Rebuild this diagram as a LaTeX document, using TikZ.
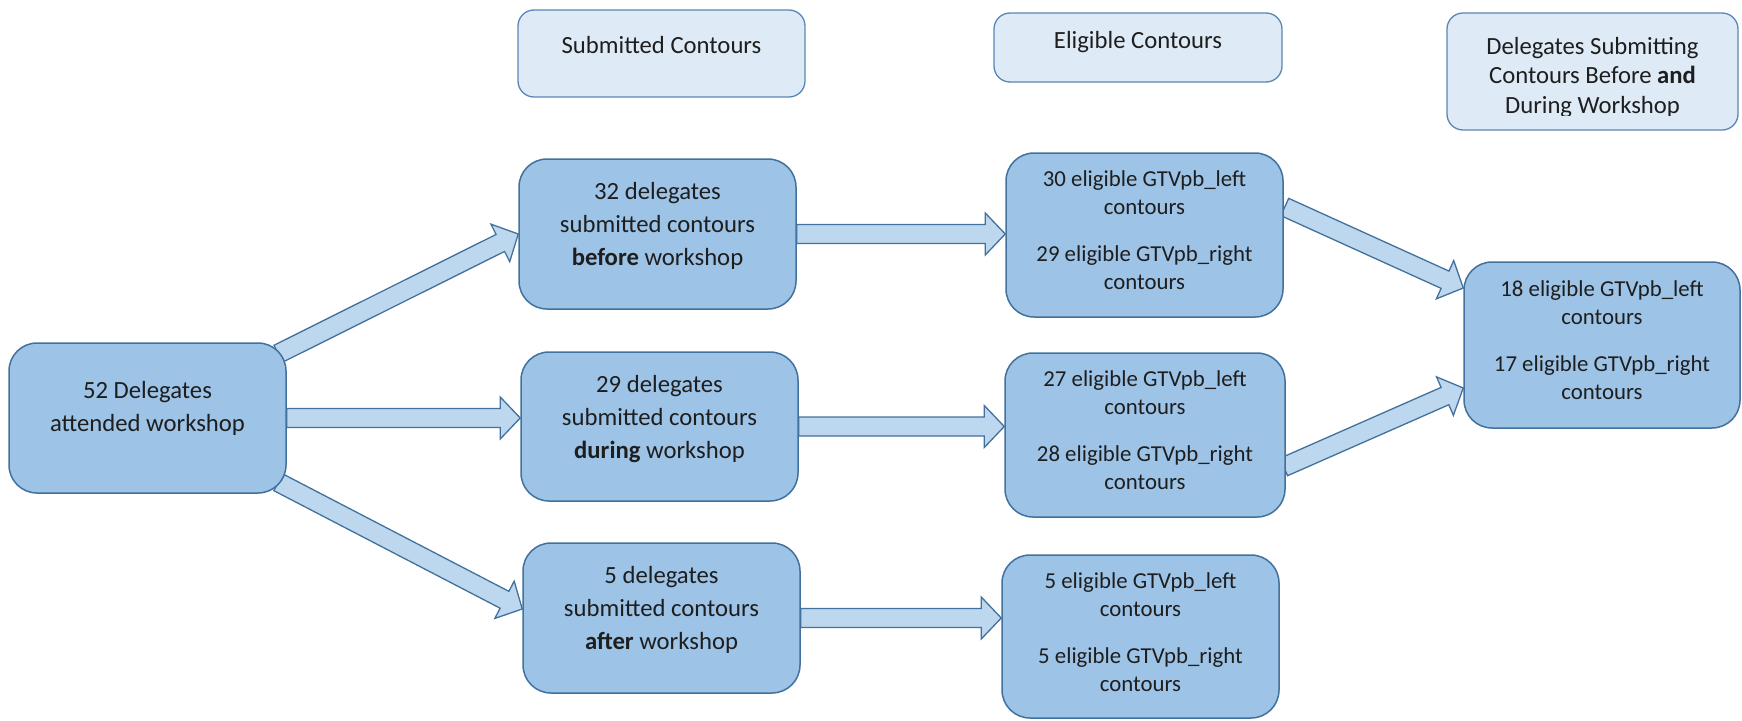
\documentclass[tikz,border=0pt]{standalone}
\usepackage{fontspec}
\setmainfont{Carlito}
\usetikzlibrary{calc,backgrounds}

\definecolor{boxfill}{HTML}{9DC3E6}
\definecolor{boxline}{HTML}{41719C}
\definecolor{arrowfill}{HTML}{BDD7EE}
\definecolor{headfill}{HTML}{DEEBF7}
\definecolor{headline}{HTML}{5A86B5}
\definecolor{ink}{HTML}{1E1E1E}

% extra depth below the last line, lifts a text block inside its box
\newcommand\padbelow[1]{\rule[-#1]{0pt}{#1}}

% block arrow geometry
\newcommand\shaftw{9.5pt}
\newcommand\headw{21pt}
\newcommand\headl{20pt}
% wide outlined arrow from tail point #1 to tip point #2
\newcommand\fatarrow[2]{%
  \draw[blockarrow] let \p1=#1, \p2=#2,
      \n1={atan2(\y2-\y1,\x2-\x1)}, \n2={veclen(\x2-\x1,\y2-\y1)} in
    ($(\p1)+({\n1-90}:\shaftw)$)
    -- ($(\p1)+(\n1:{\n2-\headl})+({\n1-90}:\shaftw)$)
    -- ($(\p1)+(\n1:{\n2-\headl})+({\n1-90}:\headw)$)
    -- (\p2)
    -- ($(\p1)+(\n1:{\n2-\headl})+({\n1+90}:\headw)$)
    -- ($(\p1)+(\n1:{\n2-\headl})+({\n1+90}:\shaftw)$)
    -- ($(\p1)+({\n1+90}:\shaftw)$) -- cycle;}

\tikzset{
  mainbox/.style={draw=boxline, fill=boxfill, rounded corners=28pt,
    line width=1.5pt, minimum width=277pt, minimum height=150pt,
    inner sep=0pt, align=center, text=ink,
    font=\fontsize{24.7}{33}\selectfont},
  countbox/.style={mainbox, minimum height=164pt,
    font=\fontsize{22.8}{28}\selectfont},
  headbox/.style={draw=headline, fill=headfill, rounded corners=16pt,
    line width=1.3pt, inner sep=0pt, text=ink,
    font=\fontsize{24.7}{28.5}\selectfont},
  blockarrow/.style={draw=boxline, fill=arrowfill, line width=1.3pt,
    line join=miter},
}

\begin{document}
\begin{tikzpicture}[x=1pt, y=-1pt]
\useasboundingbox (0,0) rectangle (1742,720);

% column headers
\node[headbox, minimum width=287pt, minimum height=87pt,
      text height=17pt, text depth=18pt] (H1) at (661.5,53.5) {Submitted Contours};
\node[headbox, minimum width=288pt, minimum height=69pt,
      text height=17pt, text depth=16pt] (H2) at (1138,47.5) {Eligible Contours};
\node[headbox, minimum width=291pt, minimum height=117pt] (H3) at (1592.5,71.5) {};
% the third header's text runs past its inner margin and is cut off
\begin{scope}
  \clip ($(H3.north west)+(1,1)$) rectangle ($(H3.south east)+(-1,-15)$);
  \node[inner sep=0pt, align=center, text=ink,
        font=\fontsize{24.7}{29.5}\selectfont] (H3t) at ($(H3.center)+(0,6)$)
    {Delegates Submitting\\Contours Before \textbf{and}\\During Workshop};
\end{scope}

% attendance
\node[mainbox] (L) at (147.5,418) {52 Delegates\\attended workshop\padbelow{22.5pt}};

% submissions
\node[mainbox] (A) at (657.5,234)
  {32 delegates\\submitted contours\\\textbf{before} workshop\padbelow{20pt}};
\node[mainbox, minimum height=149pt] (B) at (659.5,426.5)
  {29 delegates\\submitted contours\\\textbf{during} workshop\padbelow{20pt}};
\node[mainbox] (C) at (661.5,618)
  {5 delegates\\submitted contours\\\textbf{after} workshop\padbelow{20pt}};

% eligible contours
\node[countbox] (D) at (1144.5,235)
  {30 eligible GTVpb\_left\\contours\\[19pt]29 eligible GTVpb\_right\\contours\padbelow{9pt}};
\node[countbox, minimum width=280pt] (E) at (1145,435)
  {27 eligible GTVpb\_left\\contours\\[19pt]28 eligible GTVpb\_right\\contours\padbelow{9pt}};
\node[countbox, minimum height=163pt] (F) at (1140.5,636.5)
  {5 eligible GTVpb\_left\\contours\\[19pt]5 eligible GTVpb\_right\\contours\padbelow{9pt}};

% before and during
\node[countbox, minimum width=276pt, minimum height=166pt] (G) at (1602,345)
  {18 eligible GTVpb\_left\\contours\\[19pt]17 eligible GTVpb\_right\\contours\padbelow{9pt}};

% flow arrows, kept under the boxes
\begin{scope}[on background layer]
  \fatarrow{($(L.north east)+(-8.5,11.5)$)}{(A.west)}
  \fatarrow{(L.east)}{(L.east -| B.west)}
  \fatarrow{($(L.south east)+(-8.5,-11.5)$)}{($(C.west)+(0,-9)$)}
  \fatarrow{(A.east)}{(A.east -| D.west)}
  \fatarrow{(B.east)}{(B.east -| E.west)}
  \fatarrow{(C.east)}{(C.east -| F.west)}
  \fatarrow{($(D.east)+(1,-28)$)}{($(G.west)+(0,-57)$)}
  \fatarrow{($(E.east)+(-2,32)$)}{($(G.west)+(0,43)$)}
\end{scope}
\end{tikzpicture}
\end{document}
